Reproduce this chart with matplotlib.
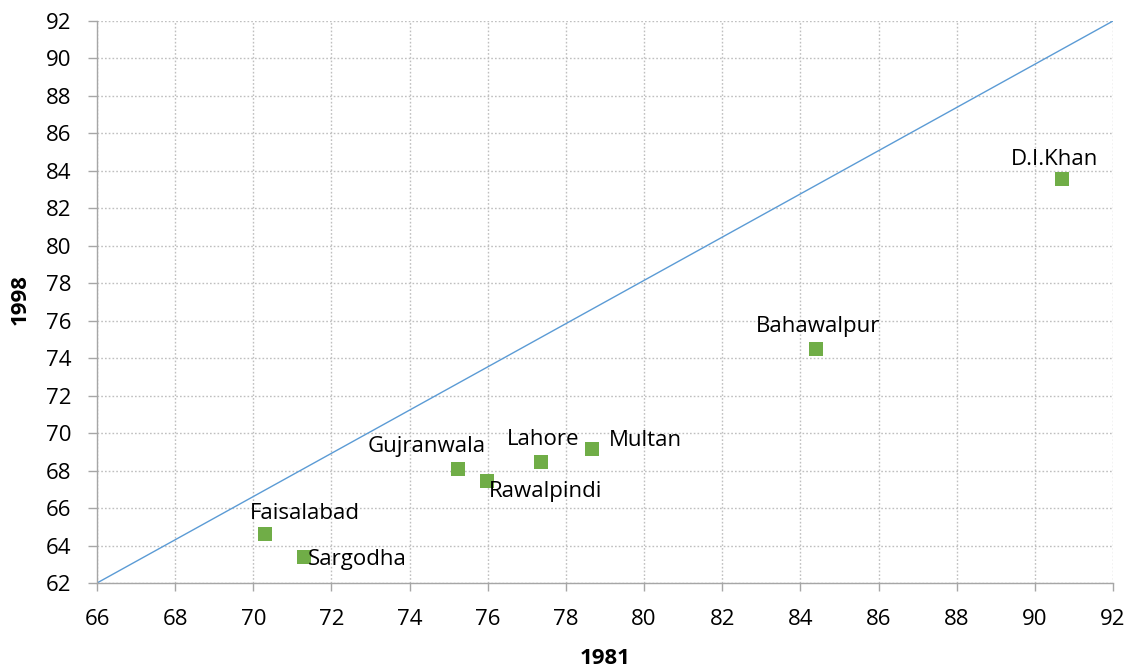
import matplotlib
matplotlib.use("Agg")
import matplotlib.pyplot as plt
import numpy as np

plt.rcParams['font.family'] = ['Open Sans', 'DejaVu Sans']

cities = ["Faisalabad", "Sargodha", "Gujranwala", "Rawalpindi", "Lahore", "Multan", "Bahawalpur", "D.I.Khan"]
v1981 = [70.30, 71.30, 75.24, 75.99, 77.35, 78.67, 84.40, 90.70]
v1998 = [64.60, 63.40, 68.07, 67.45, 68.44, 69.14, 74.48, 83.55]
ref_x = [66, 92]
ref_y = [62, 92]
xticks = list(range(66, 93, 2))
yticks = list(range(62, 93, 2))

# label offsets from marker (pixels), text centred
label_off = {
    "Faisalabad": (40, 21),
    "Sargodha": (53, -3),
    "Gujranwala": (-31, 23),
    "Rawalpindi": (58, -11),
    "Lahore": (3, 23),
    "Multan": (53, 9),
    "Bahawalpur": (2, 23),
    "D.I.Khan": (-8, 20),
}

FS = 16

fig = plt.figure(figsize=(11.32, 6.68), dpi=100)
ax = fig.add_axes([97/1132, 1 - 583/668, (1113-97)/1132, (583-21)/668])

ax.plot(ref_x, ref_y, color="#5B9BD5", lw=1.0, zorder=2)
ax.scatter(v1981, v1998, marker="s", s=102, color="#70AD47", zorder=3, linewidths=0)

for c, x, y in zip(cities, v1981, v1998):
    dx, dy = label_off[c]
    ax.annotate(c, (x, y), xytext=(dx, dy), textcoords="offset pixels",
                ha="center", va="center", fontsize=FS, color="#000000", zorder=4)

ax.set_xlim(66, 92)
ax.set_ylim(62, 92)
ax.set_xticks(xticks)
ax.set_yticks(yticks)
ax.tick_params(axis='both', labelsize=FS, colors="#000000", width=1, color="#A6A6A6")
ax.tick_params(axis='y', length=6.5, pad=12)
ax.tick_params(axis='x', length=6, pad=13)
ax.grid(True, color="#BFBFBF", linestyle=(0, (1.2, 1.5)), linewidth=1.0, zorder=0)
ax.set_axisbelow(True)
for s in ['top', 'right']:
    ax.spines[s].set_visible(False)
for s in ['left', 'bottom']:
    ax.spines[s].set_color("#A6A6A6")
    ax.spines[s].set_linewidth(1.0)

ax.set_xlabel("1981", fontsize=FS, fontweight="bold")
ax.set_ylabel("1998", fontsize=FS, fontweight="bold")
ax.xaxis.set_label_coords(605/1132, 1 - 658/668, transform=fig.transFigure)
ax.yaxis.set_label_coords(20/1132, 1 - 300/668, transform=fig.transFigure)
ax.xaxis.label.set_va("center")
ax.yaxis.label.set_va("center")

fig.savefig("out.png", dpi=100)
